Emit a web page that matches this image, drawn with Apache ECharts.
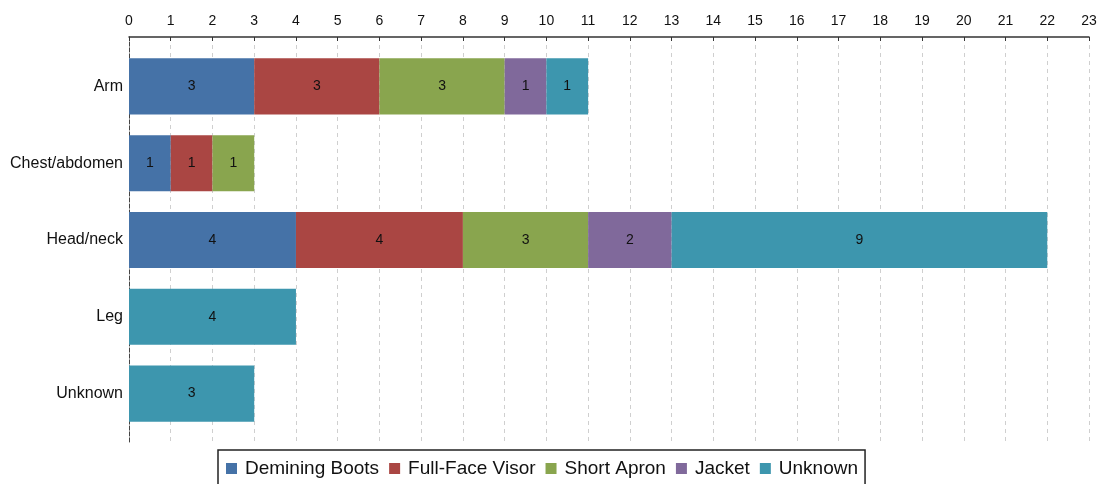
<!DOCTYPE html>
<html>
<head>
<meta charset="utf-8">
<script src="https://cdn.jsdelivr.net/npm/echarts@6/dist/echarts.min.js"></script>
<style>
  html, body { margin: 0; padding: 0; background: #fff; }
  #chart { width: 1101px; height: 484px; }
</style>
</head>
<body>
<div id="chart"></div>
<script>
const categories = ['Arm', 'Chest/abdomen', 'Head/neck', 'Leg', 'Unknown'];
const seriesNames = ['Demining Boots', 'Full-Face Visor', 'Short Apron', 'Jacket', 'Unknown'];
const deminingBoots = [3, 1, 4, 0, 0];
const fullFaceVisor = [3, 1, 4, 0, 0];
const shortApron = [3, 1, 3, 0, 0];
const jacket = [1, 0, 2, 0, 0];
const unknown = [1, 0, 9, 4, 3];
const colors = ['#4572A7', '#AA4643', '#89A54E', '#80699B', '#3D96AE'];

const values = [deminingBoots, fullFaceVisor, shortApron, jacket, unknown];

const chart = echarts.init(document.getElementById('chart'));
chart.setOption({
  animation: false,
  color: colors,
  textStyle: { fontFamily: 'Liberation Sans, Arial, sans-serif' },
  // grid 0: axis frame and dashed grid lines, grid 1: the bars
  grid: [
    { left: 129, right: 12, top: 37, height: 405 },
    { left: 129, right: 12, top: 48, height: 384 }
  ],
  legend: {
    top: 450,
    left: 218,
    itemWidth: 11,
    itemHeight: 11,
    itemGap: 10,
    borderColor: '#222',
    borderWidth: 1.5,
    borderRadius: 0,
    padding: [9, 7, 12, 8],
    textStyle: { fontSize: 19, color: '#111', padding: [0, 0, 0, 3] },
    icon: 'rect',
    data: seriesNames
  },
  xAxis: [
    {
      gridIndex: 0,
      type: 'value',
      position: 'top',
      min: 0,
      max: 23,
      interval: 1,
      axisLine: { show: true, onZero: false, lineStyle: { color: '#333', width: 1.5 } },
      axisTick: { show: true, inside: true, length: 4, lineStyle: { color: '#333' } },
      axisLabel: { color: '#111', fontSize: 14, margin: 9 },
      splitLine: { show: true, lineStyle: { type: [4, 4], color: '#cfcfcf' } }
    },
    {
      gridIndex: 1,
      type: 'value',
      min: 0,
      max: 23,
      show: false
    }
  ],
  yAxis: [
    {
      gridIndex: 0,
      type: 'value',
      min: 0,
      max: 1,
      axisLine: { show: true, onZero: false, lineStyle: { color: '#444', type: [4, 2] } },
      axisTick: { show: false },
      axisLabel: { show: false },
      splitLine: { show: false }
    },
    {
      gridIndex: 1,
      type: 'category',
      inverse: true,
      data: categories,
      axisLine: { show: false },
      axisTick: { show: false },
      axisLabel: { color: '#111', fontSize: 16, margin: 6 }
    }
  ],
  series: seriesNames.map((name, i) => ({
    name: name,
    type: 'bar',
    xAxisIndex: 1,
    yAxisIndex: 1,
    stack: 'total',
    barCategoryGap: '27%',
    data: values[i],
    label: {
      show: true,
      position: 'inside',
      color: '#111',
      fontSize: 14,
      formatter: p => (p.value ? String(p.value) : '')
    }
  }))
});
</script>
</body>
</html>
